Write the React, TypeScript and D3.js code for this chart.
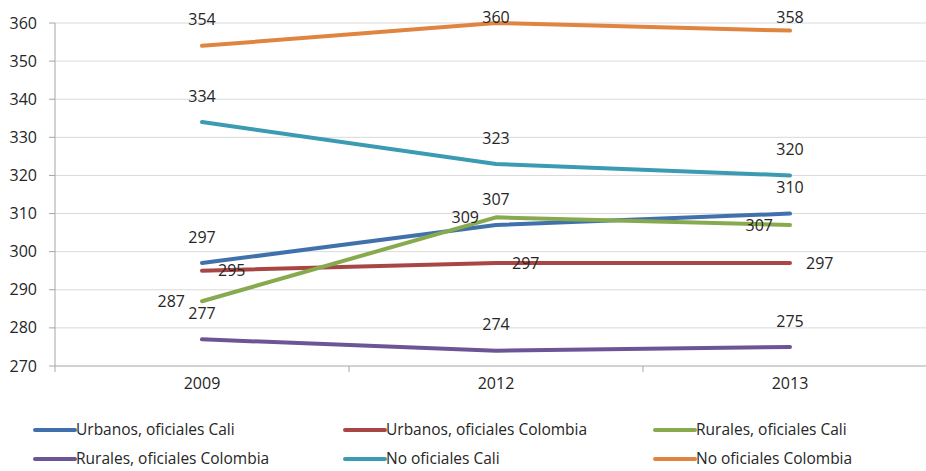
import React from "react";
import * as d3 from "d3";

const years = ["2009", "2012", "2013"];
const yTicks = [270, 280, 290, 300, 310, 320, 330, 340, 350, 360];

const seriesNames = [
  "Urbanos, oficiales Cali",
  "Urbanos, oficiales Colombia",
  "Rurales, oficiales Cali",
  "Rurales, oficiales Colombia",
  "No oficiales Cali",
  "No oficiales Colombia",
];
const urbanosCali = [297, 307, 310];
const urbanosColombia = [295, 297, 297];
const ruralesCali = [287, 309, 307];
const ruralesColombia = [277, 274, 275];
const noOficialesCali = [334, 323, 320];
const noOficialesColombia = [354, 360, 358];

const seriesValues = [urbanosCali, urbanosColombia, ruralesCali, ruralesColombia, noOficialesCali, noOficialesColombia];
const colors = ["#4171AC", "#A94645", "#87AA4F", "#6C5596", "#3A9BB2", "#E0853F"];
const labelPos = ["above", "right", "left", "above", "above", "above"];

export default function App() {
  const W = 926, H = 471;
  const left = 55, top = 23, bottom = 366;
  const band = 294;
  const x = d3.scaleBand<string>().domain(years).range([left, left + band * 3]).padding(0);
  const y = d3.scaleLinear().domain([270, 360]).range([bottom, top]);
  const cx = (yr: string) => (x(yr) as number) + x.bandwidth() / 2;
  const line = d3.line<number>().x((_, i) => cx(years[i])).y((d) => y(d));
  const font = "'Open Sans', sans-serif";

  const legendX = [35, 345, 655];
  const legendY = [430, 459];

  return (
    <svg width={W} height={H} style={{ position: "absolute", left: 0, top: 0, background: "#fff" }} fontFamily={font}>
      {yTicks.map((t) => (
        <g key={t}>
          <line x1={left} x2={left + band * 3} y1={y(t)} y2={y(t)} stroke={t === 270 ? "#A6A6A6" : "#D9D9D9"} strokeWidth={1} />
          <line x1={left - 6} x2={left} y1={y(t)} y2={y(t)} stroke="#A6A6A6" />
          <text x={37} y={y(t)} dy="0.35em" textAnchor="end" fontSize={16} fill="#262626">{t}</text>
        </g>
      ))}
      <line x1={left} x2={left} y1={top} y2={bottom} stroke="#A6A6A6" />
      {[0, 1, 2, 3].map((i) => (
        <line key={i} x1={left + band * i} x2={left + band * i} y1={bottom} y2={bottom + 6} stroke="#A6A6A6" />
      ))}
      {years.map((yr) => (
        <text key={yr} x={cx(yr)} y={383} dy="0.35em" textAnchor="middle" fontSize={16} fill="#262626">{yr}</text>
      ))}
      {seriesValues.map((vals, s) => (
        <path key={s} d={line(vals) || ""} fill="none" stroke={colors[s]} strokeWidth={4} strokeLinecap="round" strokeLinejoin="round" />
      ))}
      {seriesValues.map((vals, s) =>
        vals.map((v, i) => {
          const px = cx(years[i]);
          const py = y(v);
          let tx = px, ty = Math.max(py - 26, 17), anchor = "middle";
          if (labelPos[s] === "right") { tx = px + 16; ty = py; anchor = "start"; }
          if (labelPos[s] === "left") { tx = px - 17; ty = py; anchor = "end"; }
          return (
            <text key={s + "-" + i} x={tx} y={ty} dy="0.35em" textAnchor={anchor} fontSize={16} fill="#262626">{v}</text>
          );
        })
      )}
      {seriesNames.map((n, s) => {
        const lx = legendX[s % 3];
        const ly = legendY[Math.floor(s / 3)];
        return (
          <g key={n}>
            <line x1={lx} x2={lx + 40} y1={ly} y2={ly} stroke={colors[s]} strokeWidth={4} strokeLinecap="round" />
            <text x={lx + 41} y={ly} dy="0.35em" fontSize={15.5} fill="#262626">{n}</text>
          </g>
        );
      })}
    </svg>
  );
}
